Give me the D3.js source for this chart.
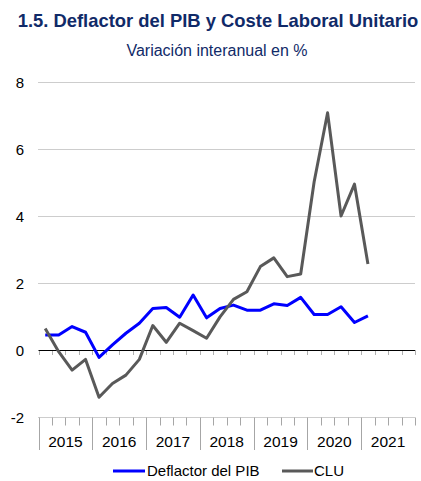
<!DOCTYPE html>
<html>
<head>
<meta charset="utf-8">
<script src="https://cdn.jsdelivr.net/npm/d3@7"></script>
<style>
  html, body { margin: 0; padding: 0; background: #fff; }
  svg { display: block; font-family: Arial, "Liberation Sans", sans-serif; }
</style>
</head>
<body>
<svg id="chart" width="421" height="481"></svg>
<script>
const title = "1.5. Deflactor del PIB y Coste Laboral Unitario";
const subtitle = "Variación interanual en %";
const years = ["2015", "2016", "2017", "2018", "2019", "2020", "2021"];
const quarters = years.flatMap(y => ["T1", "T2", "T3", "T4"].map(q => y + q));
const yTicks = [-2, 0, 2, 4, 6, 8];
const seriesNames = ["Deflactor del PIB", "CLU"];
const deflactor = [0.45, 0.45, 0.70, 0.53, -0.22, 0.15, 0.50, 0.80, 1.24, 1.27, 0.98, 1.64, 0.96, 1.24, 1.34, 1.19, 1.19, 1.38, 1.33, 1.57, 1.06, 1.06, 1.29, 0.82, 1.02];
const clu = [0.64, -0.05, -0.60, -0.28, -1.41, -1.00, -0.75, -0.28, 0.73, 0.23, 0.80, 0.58, 0.35, 0.99, 1.51, 1.74, 2.49, 2.75, 2.19, 2.27, 5.02, 7.08, 4.00, 4.95, 2.57];
const colors = ["#0000ff", "#595959"];

const svg = d3.select("#chart");
const navy = "#102a68";

svg.append("text").attr("x", 218).attr("y", 27).attr("text-anchor", "middle")
  .attr("font-size", "18.4px").attr("font-weight", "bold").attr("fill", navy).text(title);
svg.append("text").attr("x", 217).attr("y", 56).attr("text-anchor", "middle")
  .attr("font-size", "16px").attr("fill", navy).text(subtitle);

const x = d3.scaleBand().domain(quarters).range([38.5, 415]);
const y = d3.scaleLinear().domain([-2, 8]).range([417, 82]);
const cx = q => x(q) + x.bandwidth() / 2;

// gridlines (dotted)
svg.append("g").selectAll("line").data(yTicks.filter(v => v !== 0)).join("line")
  .attr("x1", 38.5).attr("x2", 415)
  .attr("y1", d => Math.round(y(d)) + 0.5).attr("y2", d => Math.round(y(d)) + 0.5)
  .attr("stroke", "#9a9a9a").attr("stroke-width", 1).attr("stroke-dasharray", "1,1");

// y axis labels
const yAxis = d3.axisLeft(y).tickValues(yTicks).tickSize(0).tickPadding(0).tickFormat(d => String(d));
const gy = svg.append("g").attr("transform", "translate(24,0)").call(yAxis);
gy.select(".domain").remove();
gy.selectAll("text").attr("font-size", "15px").attr("fill", "#000").attr("font-family", "Arial, 'Liberation Sans', sans-serif").attr("dy", "0.35em");

// zero line ticks
const bounds = quarters.map(q => x(q)).concat([x.range()[1]]);
svg.append("g").selectAll("line").data(bounds).join("line")
  .attr("x1", d => Math.round(d) + 0.5).attr("x2", d => Math.round(d) + 0.5)
  .attr("y1", y(0)).attr("y2", y(0) + 5)
  .attr("stroke", "#b0b0b0");
svg.append("line").attr("x1", 38.5).attr("x2", 415).attr("y1", Math.round(y(0)) + 0.5).attr("y2", Math.round(y(0)) + 0.5)
  .attr("stroke", "#000").attr("stroke-width", 1.2);

// bottom category axis ticks
const yb = Math.round(y(-2)) + 0.5;
svg.append("g").selectAll("line").data(bounds).join("line")
  .attr("x1", d => Math.round(d) + 0.5).attr("x2", d => Math.round(d) + 0.5)
  .attr("y1", yb).attr("y2", (d, i) => (i % 4 === 0 && i < quarters.length) ? 450 : yb + 8)
  .attr("stroke", "#a6a6a6");

// year labels
svg.append("g").selectAll("text").data(years).join("text")
  .attr("x", yr => (x(yr + "T1") + x(yr + "T4") + x.bandwidth()) / 2)
  .attr("y", 447).attr("text-anchor", "middle").attr("font-size", "15.5px").attr("fill", "#000")
  .text(d => d);

// lines
const line = d3.line().x((d, i) => cx(quarters[i])).y(d => y(d));
[deflactor, clu].forEach((s, k) => {
  svg.append("path").datum(s).attr("d", line).attr("fill", "none")
    .attr("stroke", colors[k]).attr("stroke-width", 3).attr("stroke-linejoin", "round");
});

// legend
const legendPos = [{x1: 113, x2: 145, tx: 147}, {x1: 282, x2: 313, tx: 314}];
seriesNames.forEach((n, k) => {
  svg.append("line").attr("x1", legendPos[k].x1).attr("x2", legendPos[k].x2).attr("y1", 471).attr("y2", 471)
    .attr("stroke", colors[k]).attr("stroke-width", 3);
  svg.append("text").attr("x", legendPos[k].tx).attr("y", 476).attr("font-size", "15px").attr("fill", "#000").text(n);
});
</script>
</body>
</html>
